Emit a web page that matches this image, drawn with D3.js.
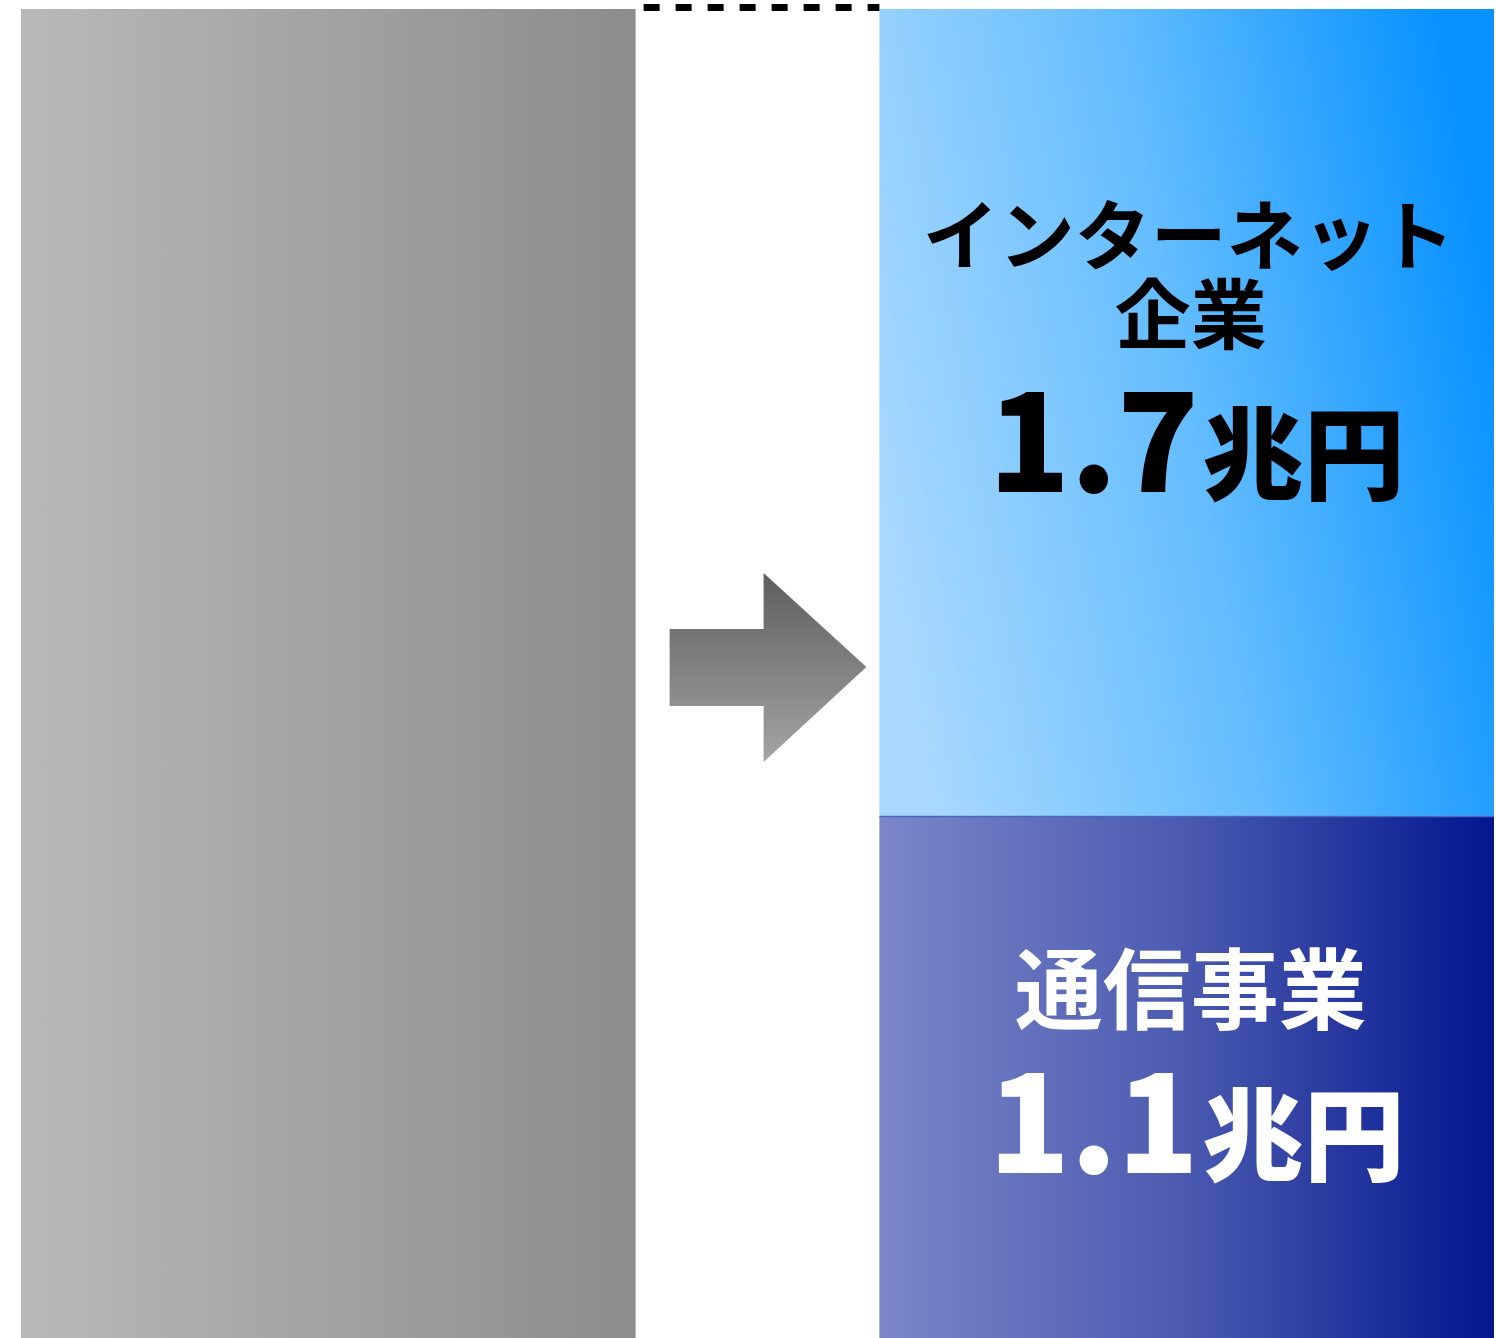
<!DOCTYPE html>
<html>
<head>
<meta charset="utf-8">
<script src="https://cdn.jsdelivr.net/npm/d3@7"></script>
<style>
  html, body { margin: 0; padding: 0; background: #fff; }
  svg { display: block; }
  text { font-family: "Noto Sans CJK JP", "Noto Sans", sans-serif; font-weight: 700; }
</style>
</head>
<body>
<div class="graphic"></div>
<script>
// data
const columns = ["total", "split"];
const totalValue = [2.8];
const segNames = ["通信事業", "インターネット企業"];
const segLines = [["通信事業"], ["インターネット", "企業"]];
const segValues = [1.1, 1.7];
const segUnit = "兆円";

const width = 1496, height = 1338;

const svg = d3.select(".graphic").append("svg")
    .attr("width", width)
    .attr("height", height);

const x = d3.scaleBand()
    .domain(columns)
    .range([21, 1494])
    .paddingInner(0.284)
    .paddingOuter(0);

const y = d3.scaleLinear()
    .domain([0, d3.sum(segValues)])
    .range([height, 9]);

const defs = svg.append("defs");

function grad(id, x1, y1, x2, y2, stops) {
    const g = defs.append("linearGradient").attr("id", id)
        .attr("x1", x1).attr("y1", y1).attr("x2", x2).attr("y2", y2);
    stops.forEach(s => g.append("stop").attr("offset", s[0]).attr("stop-color", s[1]));
}
grad("gGray", 0, 0, 1, 0, [[0, "#b9b9b9"], [1, "#8c8c8c"]]);
grad("gLight", 0, 0.62, 1, 0.38, [[0, "#a8d8ff"], [0.5, "#64bdff"], [1, "#0892ff"]]);
grad("gDark", 0, 0, 1, 0, [[0, "#7b87c8"], [0.5, "#4a5ab0"], [1, "#03168e"]]);
grad("gArrow", 0, 0, 0, 1, [[0, "#5e5e5e"], [1, "#a4a4a4"]]);

// left bar
svg.append("rect")
    .attr("x", x("total"))
    .attr("y", y(totalValue[0]))
    .attr("width", x.bandwidth())
    .attr("height", y(0) - y(totalValue[0]))
    .attr("fill", "url(#gGray)");

// stacked bar
let acc = 0;
const segs = segValues.map((v, i) => {
    const s = { name: segNames[i], lines: segLines[i], value: v, y0: acc, y1: acc + v };
    acc += v;
    return s;
});

const fills = ["url(#gDark)", "url(#gLight)"];
const txtColor = ["#ffffff", "#000000"];

svg.selectAll("rect.seg")
    .data(segs)
    .enter()
    .append("rect")
    .attr("class", "seg")
    .attr("x", x("split"))
    .attr("y", d => y(d.y1))
    .attr("width", x.bandwidth())
    .attr("height", d => y(d.y0) - y(d.y1))
    .attr("fill", (d, i) => fills[i]);

// thin edge between segments
svg.append("line")
    .attr("x1", x("split")).attr("x2", x("split") + x.bandwidth())
    .attr("y1", y(segs[0].y1) + 0.5).attr("y2", y(segs[0].y1) + 0.5)
    .attr("stroke", "#4a66c0").attr("stroke-width", 1.5);

// dotted connector along the top
const gapL = x("total") + x.bandwidth();
const gapR = x("split");
svg.append("line")
    .attr("x1", gapL).attr("x2", gapR)
    .attr("y1", y(totalValue[0]) - 1.5).attr("y2", y(totalValue[0]) - 1.5)
    .attr("stroke", "#000")
    .attr("stroke-width", 7)
    .attr("stroke-dasharray", "16 16")
    .attr("stroke-dashoffset", 24);

// arrow in the gap
const ax0 = gapL + 34, ax1 = gapR - 13, amid = ax0 + 94;
const acy = 667;
const arrow = d3.path();
arrow.moveTo(ax0, acy - 38);
arrow.lineTo(amid, acy - 38);
arrow.lineTo(amid, acy - 94);
arrow.lineTo(ax1, acy);
arrow.lineTo(amid, acy + 95);
arrow.lineTo(amid, acy + 39);
arrow.lineTo(ax0, acy + 39);
arrow.closePath();
svg.append("path").attr("d", arrow.toString()).attr("fill", "url(#gArrow)");

// labels
const cx = x("split") + x.bandwidth() / 2 + 2;

// top segment (internet)
const segTop = segs[1];
const tg = svg.append("g").attr("fill", txtColor[1]);
tg.append("text").attr("x", cx).attr("y", 264)
    .attr("text-anchor", "middle").style("font-size", "76px")
    .text(segTop.lines[0]);
tg.append("text").attr("x", cx + 2).attr("y", 343)
    .attr("text-anchor", "middle").style("font-size", "76px")
    .text(segTop.lines[1]);
const tv = tg.append("text").attr("x", cx + 8).attr("y", 492)
    .attr("text-anchor", "middle");
tv.append("tspan").style("font-size", "134px").style("font-weight", 900).text(d3.format(".1f")(segTop.value));
tv.append("tspan").attr("dx", 4).style("font-size", "101px").style("font-weight", 900).text(segUnit);

// bottom segment (telecom)
const segBot = segs[0];
const bg = svg.append("g").attr("fill", txtColor[0]);
bg.append("text").attr("x", cx + 2).attr("y", 1022)
    .attr("text-anchor", "middle").style("font-size", "88px")
    .text(segBot.lines[0]);
const bv = bg.append("text").attr("x", cx + 8).attr("y", 1173)
    .attr("text-anchor", "middle");
bv.append("tspan").style("font-size", "134px").style("font-weight", 900).text(d3.format(".1f")(segBot.value));
bv.append("tspan").attr("dx", 4).style("font-size", "101px").style("font-weight", 900).text(segUnit);
</script>
</body>
</html>
